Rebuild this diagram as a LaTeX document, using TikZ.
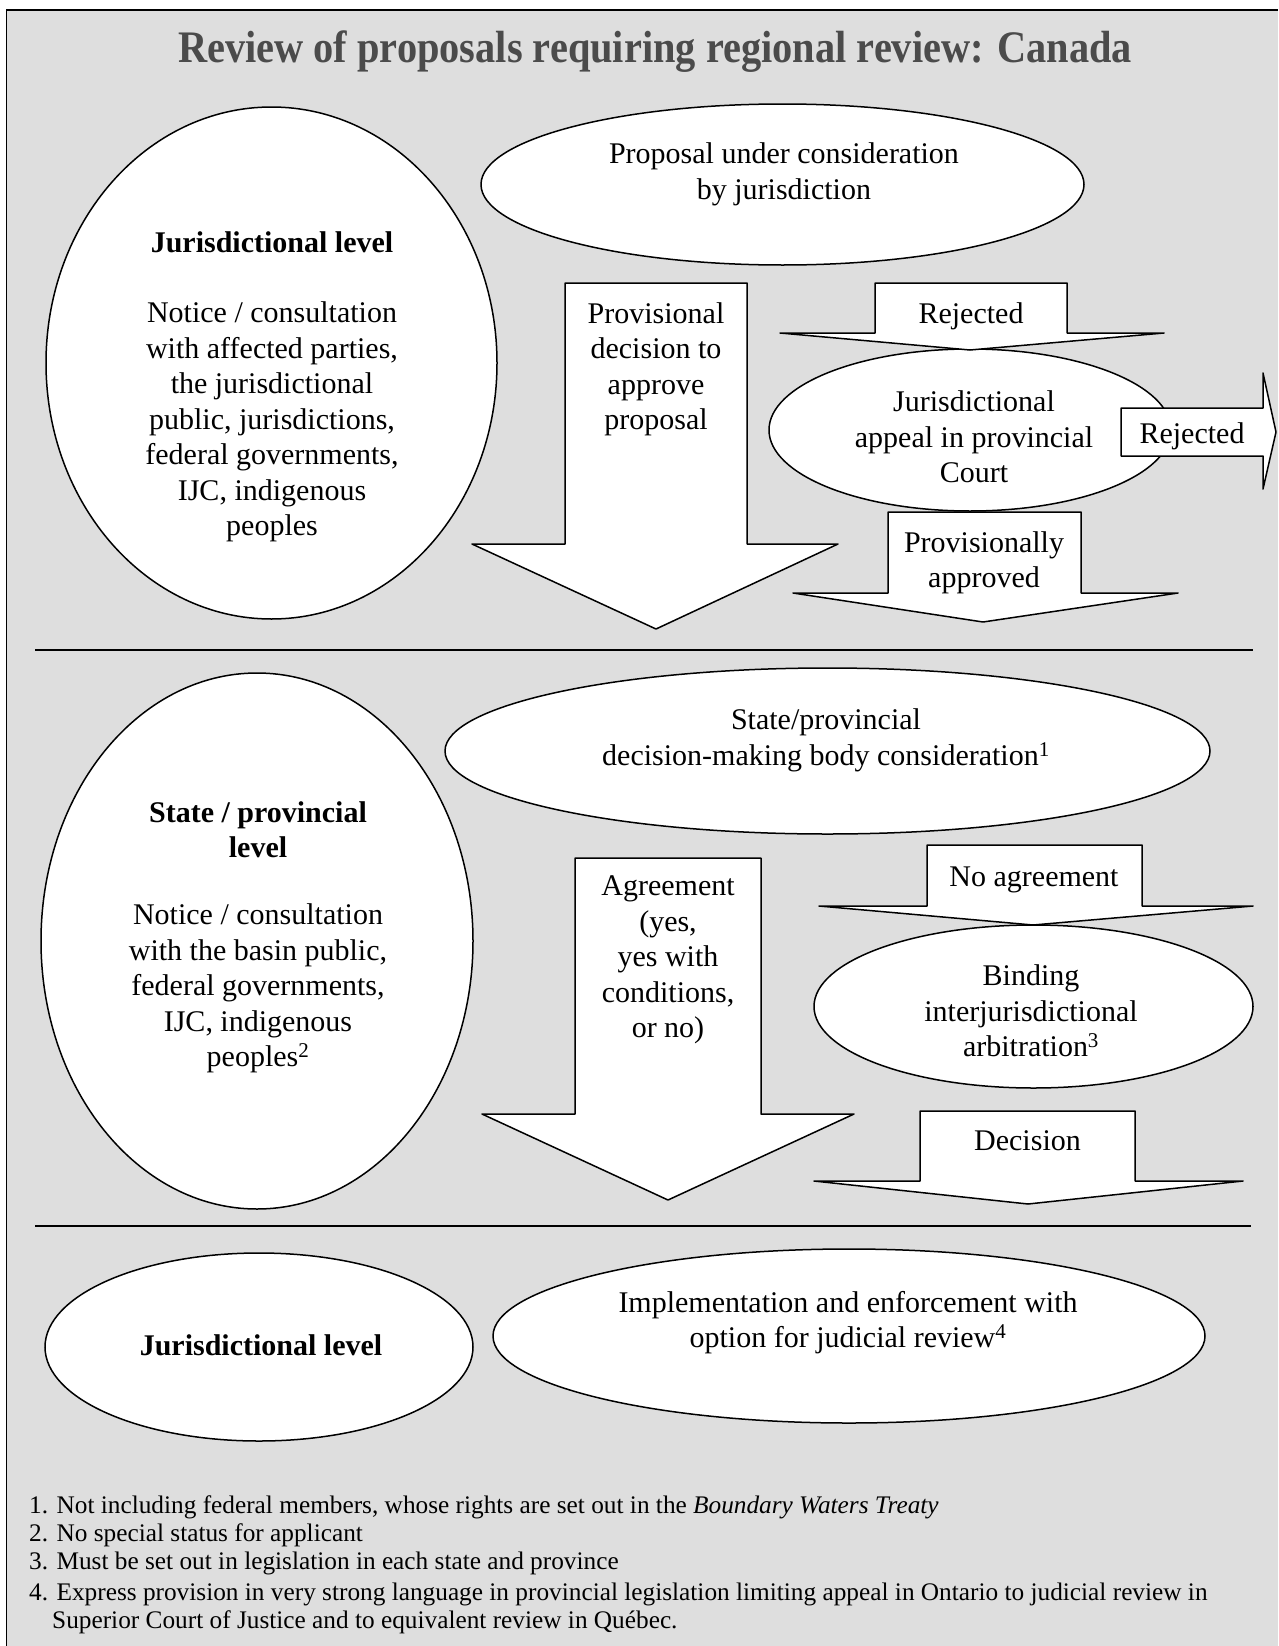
\documentclass[tikz,border=0pt]{standalone}
\usepackage{fontspec}
\setmainfont{Liberation Serif}
\usetikzlibrary{shapes.geometric}
\definecolor{bggray}{RGB}{222,222,222}
\definecolor{titlegray}{RGB}{75,75,75}
\newcommand\bodyfont{\fontsize{30}{35.5}\selectfont}
\newcommand\ttlfont{\fontsize{41}{48}\selectfont\bfseries}
\newcommand\notefont{\fontsize{25.3}{28.5}\selectfont}
\begin{document}
\begin{tikzpicture}[x=1pt,y=-1pt,
  ell/.style={ellipse, draw=black, fill=white, line width=1.5pt, inner sep=0pt},
  blk/.style={draw=black, fill=white, line width=1.5pt, line join=round},
  rulez/.style={draw=black, line width=1.5pt},
  txt/.style={font=\bodyfont, align=center, inner sep=0pt},
  boldtxt/.style={font=\bodyfont\bfseries, align=center, inner sep=0pt},
  note/.style={font=\notefont, anchor=base west, inner sep=0pt}]
\useasboundingbox (0,0) rectangle (1278,1646);
\fill[bggray] (6.5,10) rectangle (1278,1646);
\coordinate (fa) at (6.5,1646);
\coordinate (fb) at (6.5,10);
\coordinate (fc) at (1278,10);
\draw[rulez] (fa) -- (fb) -- (fc);

\node[font=\ttlfont, text=titlegray, anchor=base, inner sep=0pt] (title) at (655,63)
  {\scalebox{0.985}[1.1]{Review of proposals requiring regional review: Canada}};

% dividers
\coordinate (d1a) at (35,650); \coordinate (d1b) at (1253,650);
\coordinate (d2a) at (35,1226); \coordinate (d2b) at (1251,1226);
\draw[rulez] (d1a) -- (d1b);
\draw[rulez] (d2a) -- (d2b);

% ellipses
\node[ell, minimum width=451pt, minimum height=512pt] (e1) at (271.5,363) {};
\node[ell, minimum width=603pt, minimum height=161pt] (e2) at (782.5,184.5) {};
\node[ell, minimum width=402pt, minimum height=162pt] (e3) at (970,430) {};
\node[ell, minimum width=432pt, minimum height=536pt] (e4) at (257,941) {};
\node[ell, minimum width=765pt, minimum height=166pt] (e5) at (827.5,751) {};
\node[ell, minimum width=439pt, minimum height=163pt] (e6) at (1033.5,1006.5) {};
\node[ell, minimum width=428pt, minimum height=188pt] (e7) at (259,1347) {};
\node[ell, minimum width=712pt, minimum height=174pt] (e8) at (849,1336) {};

% block arrows
\draw[blk] (565,283) -- (747,283) -- (747,544) -- (838,544) -- (656,629) -- (472,544) -- (565,544) -- cycle;
\draw[blk] (875,283) -- (1067,283) -- (1067,333) -- (1164,333) -- (970,350) -- (780,333) -- (875,333) -- cycle;
\draw[blk] (1121,408) -- (1263,408) -- (1263,373) -- (1276,432) -- (1263,489) -- (1263,456) -- (1121,456) -- cycle;
\draw[blk] (888,512) -- (1081,512) -- (1081,593) -- (1178,593) -- (983,622) -- (793,593) -- (888,593) -- cycle;
\draw[blk] (575,858) -- (761,858) -- (761,1114) -- (854,1114) -- (668,1200) -- (482,1114) -- (575,1114) -- cycle;
\draw[blk] (927,845) -- (1142,845) -- (1142,906) -- (1253,906) -- (1033,925) -- (819,906) -- (927,906) -- cycle;
\draw[blk] (920,1111) -- (1135,1111) -- (1135,1181) -- (1243,1181) -- (1028,1204) -- (814,1181) -- (920,1181) -- cycle;

% texts
\node[boldtxt] (t1a) at (272,242) {Jurisdictional level};
\node[txt] (t1b) at (272,422) {Notice / consultation\\with affected parties,\\the jurisdictional\\public, jurisdictions,\\federal governments,\\IJC, indigenous\\peoples};
\node[txt] (t2) at (784,174.5) {Proposal under consideration\\by jurisdiction};
\node[txt] (ta) at (656,369.5) {Provisional\\decision to\\approve\\proposal};
\node[txt] (tr1) at (971,316) {Rejected};
\node[txt] (t3) at (974,437) {Jurisdictional\\appeal in provincial\\Court};
\node[txt] (tr2) at (1192,436) {Rejected};
\node[txt] (tp) at (984,563) {Provisionally\\approved};
\node[boldtxt] (t4a) at (258,829.5) {State / provincial\\level};
\node[txt] (t4b) at (258,988.5) {Notice / consultation\\with the basin public,\\federal governments,\\IJC, indigenous\\peoples\textsuperscript{2}};
\node[txt] (t5) at (826,740.5) {State/provincial\\decision-making body consideration\textsuperscript{1}};
\node[txt] (tg) at (668,960) {Agreement\\(yes,\\yes with\\conditions,\\or no)};
\node[txt] (tn) at (1034,880) {No agreement};
\node[txt] (t6) at (1031,1011) {Binding\\interjurisdictional\\arbitration\textsuperscript{3}};
\node[txt] (td) at (1027.5,1141) {Decision};
\node[boldtxt] (t7) at (261,1345) {Jurisdictional level};
\node[txt] (t8) at (848,1322.5) {Implementation and enforcement with\\option for judicial review\textsuperscript{4}};

% footnotes
\node[note] (f1) at (29,1513) {1. Not including federal members, whose rights are set out in the \textit{Boundary Waters Treaty}};
\node[note] (f2) at (29,1541) {2. No special status for applicant};
\node[note] (f3) at (29,1569) {3. Must be set out in legislation in each state and province};
\node[note] (f4) at (29,1600) {4. Express provision in very strong language in provincial legislation limiting appeal in Ontario to judicial review in};
\node[note] (f5) at (52,1628) {Superior Court of Justice and to equivalent review in Québec.};
\end{tikzpicture}
\end{document}
